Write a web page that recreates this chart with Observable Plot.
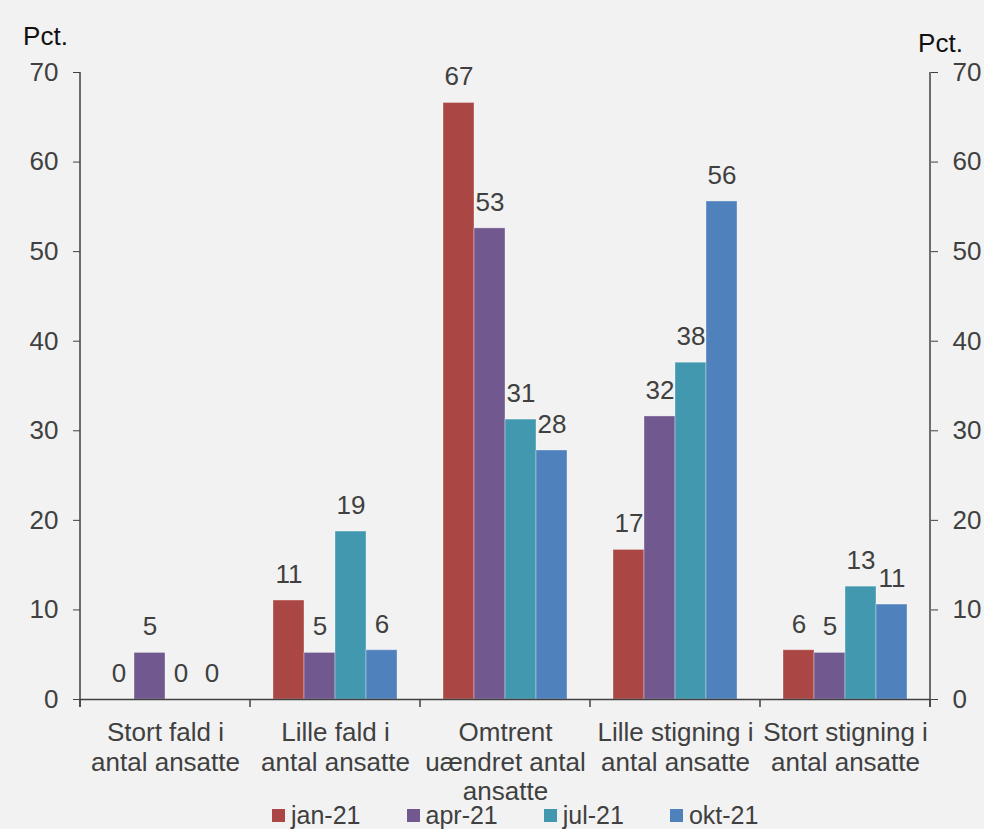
<!DOCTYPE html>
<html><head><meta charset="utf-8">
<script src="https://cdn.jsdelivr.net/npm/d3@7"></script>
<script src="https://cdn.jsdelivr.net/npm/@observablehq/plot@0.6"></script>
<style>
html,body{margin:0;padding:0;background:#f2f2f2;}
body{width:984px;height:829px;overflow:hidden;font-family:"Liberation Sans",Arial,sans-serif;}
#chart svg{display:block}
#legend{display:flex;gap:46px;margin-left:272px;height:28px;align-items:center;font-size:25px;color:#404040;line-height:28px;}
.item{display:flex;align-items:center;gap:6px}
.sw{width:13px;height:13px;display:inline-block}
</style></head><body><div id="chart"></div><div id="legend"></div>
<script>
const categories = ["Stort fald i antal ansatte", "Lille fald i antal ansatte", "Omtrent uændret antal ansatte", "Lille stigning i antal ansatte", "Stort stigning i antal ansatte"];
const categoryLabels = ["Stort fald i\nantal ansatte", "Lille fald i\nantal ansatte", "Omtrent\nuændret antal\nansatte", "Lille stigning i\nantal ansatte", "Stort stigning i\nantal ansatte"];
const series = ["jan-21", "apr-21", "jul-21", "okt-21"];
const colors = ["#aa4643", "#71588f", "#4198af", "#4f81bd"];
const jan21 = [0, 11.05, 66.6, 16.7, 5.5];
const apr21 = [5.2, 5.2, 52.6, 31.6, 5.2];
const jul21 = [0, 18.75, 31.25, 37.6, 12.6];
const okt21 = [0, 5.5, 27.8, 55.6, 10.6];
const yTicks = [0, 10, 20, 30, 40, 50, 60, 70];
const unitLabel = "Pct.";

const seriesValues = [jan21, apr21, jul21, okt21];
const data = categories.flatMap((c, i) => series.map((s, j) => ({category: c, series: s, value: seriesValues[j][i]})));

const plot = Plot.plot({
  width: 984, height: 801,
  marginTop: 72, marginLeft: 80, marginRight: 54, marginBottom: 102,
  style: {background: "#f2f2f2", fontFamily: "'Liberation Sans', Arial, sans-serif", fontSize: "26px", color: "#404040", overflow: "visible"},
  fx: {domain: categories, padding: 0, axis: null},
  x: {domain: series, paddingInner: 0, paddingOuter: 0.74, axis: null},
  y: {domain: [0, 70], ticks: yTicks, axis: "both", tickSize: 7, tickPadding: 15, label: null},
  color: {domain: series, range: colors},
  marks: [
    Plot.barY(data, {fx: "category", x: "series", y: "value", fill: "series", stroke: "#ffffff", strokeOpacity: 0.35, strokeWidth: 1}),
    Plot.ruleY([0], {stroke: "#404040", strokeWidth: 1.5}),
    Plot.text(data, {fx: "category", x: "series", y: "value", text: d => String(Math.round(d.value)), dy: -26, fill: "#404040"}),
    Plot.text(categories, {fx: d => d, text: d => categoryLabels[categories.indexOf(d)], frameAnchor: "bottom", lineAnchor: "top", dy: 21, lineHeight: 1.13, fill: "#404040"}),
    Plot.text([unitLabel], {fx: () => categories[0], frameAnchor: "top-left", textAnchor: "middle", dx: -35, dy: -46, fill: "#111", fontSize: 26}),
    Plot.text([unitLabel], {fx: () => categories[categories.length - 1], frameAnchor: "top-right", textAnchor: "middle", dx: 10, dy: -39, fill: "#111", fontSize: 26})
  ]
});

const fx = plot.scale("fx"), ys = plot.scale("y");
const y0 = ys.apply(0), yTop = ys.apply(yTicks[yTicks.length - 1]);
const g = d3.select(plot).append("g").attr("stroke", "#404040").attr("stroke-width", 1.5);
const left = fx.apply(categories[0]);
const right = fx.apply(categories[categories.length - 1]) + fx.bandwidth;
const edges = categories.map(c => fx.apply(c)).concat([right]);
edges.forEach(x => g.append("line").attr("x1", x).attr("x2", x).attr("y1", y0).attr("y2", y0 + 8));
[left, right].forEach(x => g.append("line").attr("x1", x).attr("x2", x).attr("y1", yTop).attr("y2", y0 + 8));

document.getElementById("chart").appendChild(plot);

const legend = d3.select("#legend");
series.forEach((s, i) => {
  const it = legend.append("div").attr("class", "item");
  it.append("span").attr("class", "sw").style("background", colors[i]);
  it.append("span").text(s);
});
</script>
</body></html>
